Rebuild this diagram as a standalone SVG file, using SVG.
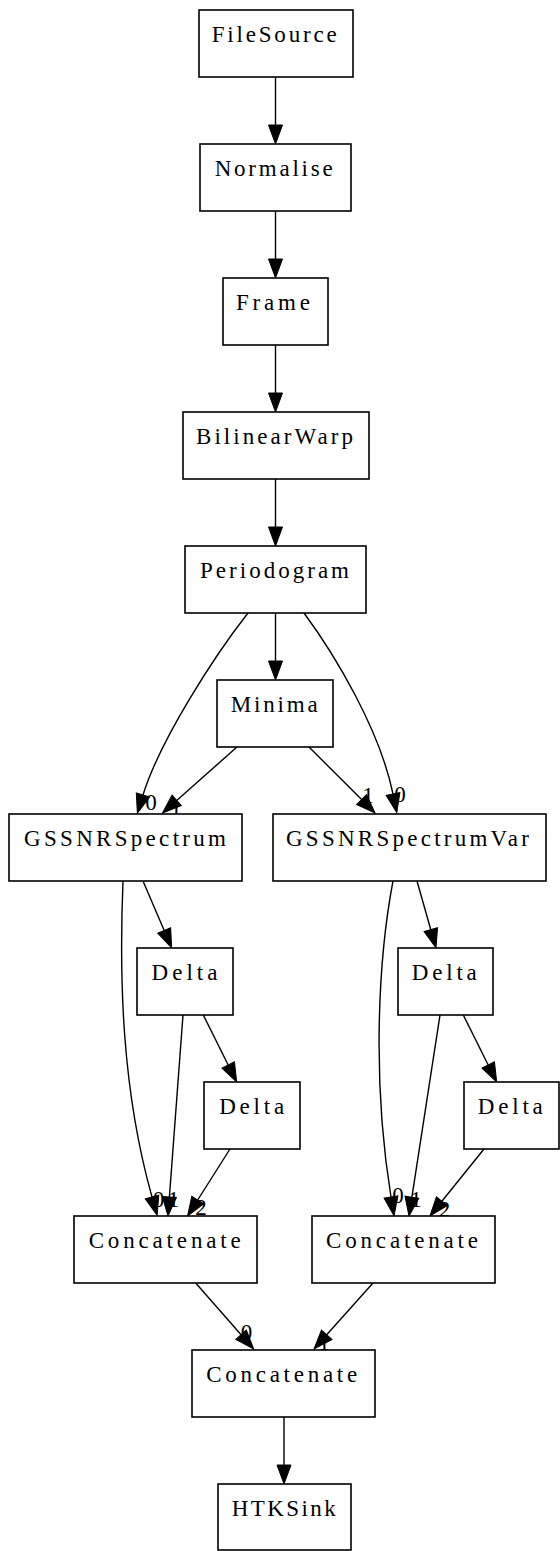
<svg xmlns="http://www.w3.org/2000/svg" width="560" height="1551" viewBox="0 0 560 1551">
<style>
.n rect{fill:#fff;stroke:#000;stroke-width:1.6}
.n text,.pl{font-family:"Liberation Serif","Times New Roman",serif;font-size:23px;fill:#000;text-anchor:middle}
.e path{fill:none;stroke:#000;stroke-width:1.4;marker-end:url(#ah)}
</style>
<defs>
<marker id="ah" markerUnits="userSpaceOnUse" markerWidth="20" markerHeight="16" refX="0" refY="7" orient="auto" viewBox="0 0 20 14" overflow="visible">
<path d="M0,0 L19,7 L0,14 Z" fill="#000" stroke="#000" stroke-width="1"/>
</marker>
</defs>
<rect width="560" height="1551" fill="#fff"/>
<g id="edges" class="e">
<path d="M275.5,77 L275.5,125"/>
<path d="M275.5,211 L275.5,259"/>
<path d="M275.5,345 L275.5,393"/>
<path d="M275.5,479 L275.5,527"/>
<path d="M275.5,613 L275.5,661"/>
<path d="M248,613 C215,655 160,740 143,795"/>
<path d="M304,613 C335,655 380,730 393,794"/>
<path d="M237,747 L176.7,800.4"/>
<path d="M309,747 L361.6,799.6"/>
<path d="M143,881 L164.2,930.5"/>
<path d="M417,881 L430.8,929.7"/>
<path d="M203.3,1015 L228.2,1065"/>
<path d="M463.3,1015 L488.2,1065"/>
<path d="M123,881 C119,980 122,1090 152,1197"/>
<path d="M183,1015 L169.4,1197"/>
<path d="M230,1149 L197.7,1200"/>
<path d="M393,881 C378,960 372,1080 391,1197"/>
<path d="M440,1015 L411.9,1197.2"/>
<path d="M484,1149 L441.9,1201.2"/>
<path d="M195.7,1283 L241.1,1334.7"/>
<path d="M373,1283 L326.7,1334.8"/>
<path d="M284,1417 L284,1465"/>
<text class="pl" x="151" y="810">0</text>
<text class="pl" x="176" y="818">1</text>
<text class="pl" x="368" y="803">1</text>
<text class="pl" x="400" y="802">0</text>
<text class="pl" x="158.5" y="1207">0</text>
<text class="pl" x="173.5" y="1207">1</text>
<text class="pl" x="201" y="1215">2</text>
<text class="pl" x="398" y="1203">0</text>
<text class="pl" x="416" y="1207">1</text>
<text class="pl" x="444.5" y="1217">2</text>
<text class="pl" x="246.5" y="1340">0</text>
<text class="pl" x="324" y="1350">1</text>
</g>
<g id="filesource" class="n"><rect x="199" y="10" width="154" height="67"/><text x="274.2" y="42" textLength="125" lengthAdjust="spacing">FileSource</text></g>
<g id="normalise" class="n"><rect x="200" y="144" width="151" height="67"/><text x="273.7" y="176" textLength="118" lengthAdjust="spacing">Normalise</text></g>
<g id="frame" class="n"><rect x="223" y="278" width="105" height="67"/><text x="273" y="310" textLength="74" lengthAdjust="spacing">Frame</text></g>
<g id="bilinearwarp" class="n"><rect x="183" y="412" width="186" height="67"/><text x="274.5" y="444" textLength="157" lengthAdjust="spacing">BilinearWarp</text></g>
<g id="periodogram" class="n"><rect x="185" y="546" width="181" height="67"/><text x="274.5" y="578" textLength="149" lengthAdjust="spacing">Periodogram</text></g>
<g id="minima" class="n"><rect x="217" y="680" width="116" height="67"/><text x="274.2" y="712" textLength="87" lengthAdjust="spacing">Minima</text></g>
<g id="gssnrspectrum" class="n"><rect x="9" y="814" width="233" height="67"/><text x="125" y="846" textLength="202" lengthAdjust="spacing">GSSNRSpectrum</text></g>
<g id="gssnrspectrumvar" class="n"><rect x="273" y="814" width="273" height="67"/><text x="407.5" y="846" textLength="243" lengthAdjust="spacing">GSSNRSpectrumVar</text></g>
<g id="delta1" class="n"><rect x="137" y="948" width="96" height="67"/><text x="184.5" y="980" textLength="66" lengthAdjust="spacing">Delta</text></g>
<g id="delta2" class="n"><rect x="398" y="948" width="95" height="67"/><text x="444.3" y="980" textLength="65" lengthAdjust="spacing">Delta</text></g>
<g id="delta3" class="n"><rect x="204" y="1082" width="96" height="67"/><text x="251.7" y="1114" textLength="65" lengthAdjust="spacing">Delta</text></g>
<g id="delta4" class="n"><rect x="464" y="1082" width="95" height="67"/><text x="510.3" y="1114" textLength="65" lengthAdjust="spacing">Delta</text></g>
<g id="concatenate1" class="n"><rect x="74" y="1216" width="183" height="67"/><text x="164.7" y="1248" textLength="152" lengthAdjust="spacing">Concatenate</text></g>
<g id="concatenate2" class="n"><rect x="312" y="1216" width="183" height="67"/><text x="402" y="1248" textLength="152" lengthAdjust="spacing">Concatenate</text></g>
<g id="concatenate3" class="n"><rect x="192" y="1350" width="183" height="67"/><text x="281.7" y="1382" textLength="151" lengthAdjust="spacing">Concatenate</text></g>
<g id="htksink" class="n"><rect x="218" y="1484" width="133" height="66"/><text x="283.7" y="1516" textLength="104" lengthAdjust="spacing">HTKSink</text></g>
</svg>
